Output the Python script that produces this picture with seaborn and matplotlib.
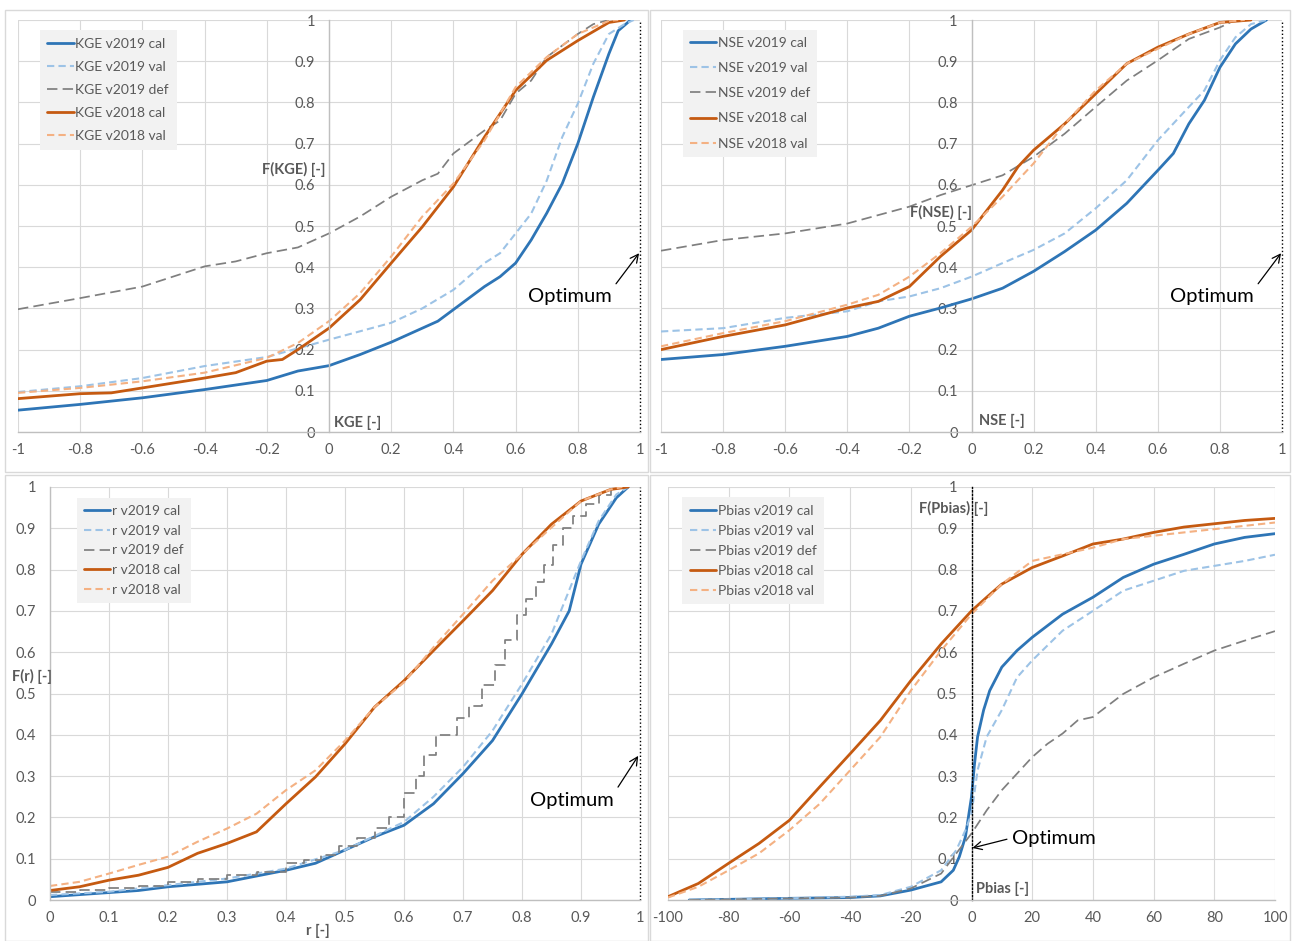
import pandas as pd
import seaborn as sns
import matplotlib.pyplot as plt
from matplotlib.patches import Rectangle
from matplotlib.ticker import FuncFormatter

# ---- data (x value, cumulative frequency) ----
KGE_CAL19_X = [-1, -0.8, -0.6, -0.4, -0.2, -0.1, 0, 0.1, 0.2, 0.3, 0.35, 0.4, 0.5, 0.55, 0.6, 0.65, 0.7, 0.75, 0.8, 0.85, 0.9, 0.93, 0.97]
KGE_CAL19_F = [0.053, 0.067, 0.083, 0.103, 0.125, 0.148, 0.161, 0.188, 0.218, 0.252, 0.269, 0.297, 0.353, 0.377, 0.41, 0.466, 0.531, 0.603, 0.70, 0.813, 0.918, 0.974, 1.0]
KGE_VAL19_X = [-1, -0.8, -0.6, -0.4, -0.2, 0, 0.2, 0.3, 0.4, 0.5, 0.55, 0.6, 0.65, 0.7, 0.75, 0.8, 0.85, 0.9, 0.95, 0.98]
KGE_VAL19_F = [0.097, 0.111, 0.131, 0.16, 0.182, 0.224, 0.265, 0.30, 0.345, 0.41, 0.434, 0.482, 0.53, 0.61, 0.716, 0.797, 0.894, 0.966, 0.99, 1.0]
KGE_DEF19_X = [-1, -0.8, -0.6, -0.4, -0.3, -0.2, -0.1, 0, 0.1, 0.2, 0.3, 0.35, 0.4, 0.5, 0.55, 0.6, 0.65, 0.7, 0.8, 0.85, 0.9]
KGE_DEF19_F = [0.298, 0.325, 0.353, 0.402, 0.414, 0.434, 0.448, 0.482, 0.523, 0.571, 0.611, 0.627, 0.676, 0.732, 0.756, 0.821, 0.853, 0.91, 0.966, 0.99, 1.0]
KGE_CAL18_X = [-1, -0.8, -0.7, -0.6, -0.4, -0.3, -0.2, -0.15, -0.1, 0, 0.1, 0.2, 0.3, 0.4, 0.5, 0.6, 0.7, 0.8, 0.9, 0.95]
KGE_CAL18_F = [0.081, 0.093, 0.095, 0.107, 0.131, 0.144, 0.172, 0.176, 0.20, 0.252, 0.321, 0.41, 0.498, 0.595, 0.716, 0.829, 0.902, 0.95, 0.994, 1.0]
KGE_VAL18_X = [-1, -0.8, -0.6, -0.4, -0.2, -0.1, 0, 0.1, 0.2, 0.3, 0.4, 0.5, 0.6, 0.7, 0.8, 0.9, 0.93]
KGE_VAL18_F = [0.095, 0.107, 0.123, 0.144, 0.18, 0.216, 0.269, 0.337, 0.426, 0.523, 0.603, 0.708, 0.837, 0.91, 0.966, 0.998, 1.0]

NSE_CAL19_X = [-1, -0.8, -0.6, -0.4, -0.3, -0.2, -0.1, 0, 0.1, 0.2, 0.3, 0.4, 0.5, 0.6, 0.65, 0.7, 0.75, 0.8, 0.85, 0.9, 0.95]
NSE_CAL19_F = [0.176, 0.188, 0.208, 0.232, 0.252, 0.281, 0.301, 0.323, 0.349, 0.39, 0.438, 0.49, 0.555, 0.635, 0.676, 0.748, 0.805, 0.885, 0.942, 0.978, 1.0]
NSE_VAL19_X = [-1, -0.8, -0.6, -0.4, -0.3, -0.2, -0.1, 0, 0.1, 0.2, 0.3, 0.4, 0.5, 0.6, 0.7, 0.75, 0.8, 0.85, 0.9, 0.95]
NSE_VAL19_F = [0.244, 0.252, 0.277, 0.293, 0.317, 0.329, 0.349, 0.377, 0.41, 0.442, 0.482, 0.543, 0.611, 0.708, 0.789, 0.829, 0.902, 0.958, 0.99, 1.0]
NSE_DEF19_X = [-1, -0.8, -0.6, -0.4, -0.2, -0.1, 0, 0.1, 0.2, 0.3, 0.4, 0.5, 0.6, 0.7, 0.8, 0.85]
NSE_DEF19_F = [0.44, 0.466, 0.482, 0.506, 0.547, 0.575, 0.599, 0.623, 0.668, 0.724, 0.789, 0.853, 0.902, 0.954, 0.982, 1.0]
NSE_CAL18_X = [-1, -0.8, -0.6, -0.4, -0.3, -0.2, -0.1, 0, 0.1, 0.15, 0.2, 0.3, 0.4, 0.5, 0.6, 0.7, 0.8, 0.9]
NSE_CAL18_F = [0.20, 0.232, 0.26, 0.301, 0.317, 0.353, 0.426, 0.49, 0.587, 0.644, 0.684, 0.748, 0.821, 0.894, 0.934, 0.966, 0.994, 1.0]
NSE_VAL18_X = [-1, -0.8, -0.6, -0.4, -0.3, -0.2, -0.1, 0, 0.1, 0.2, 0.25, 0.3, 0.4, 0.5, 0.6, 0.7, 0.8, 0.88]
NSE_VAL18_F = [0.208, 0.24, 0.269, 0.309, 0.333, 0.377, 0.434, 0.498, 0.571, 0.652, 0.70, 0.748, 0.829, 0.894, 0.93, 0.966, 0.994, 1.0]

R_CAL19_X = [0, 0.1, 0.15, 0.2, 0.3, 0.4, 0.45, 0.5, 0.55, 0.6, 0.65, 0.7, 0.75, 0.8, 0.85, 0.88, 0.9, 0.93, 0.96, 0.98]
R_CAL19_F = [0.008, 0.018, 0.023, 0.032, 0.044, 0.072, 0.089, 0.121, 0.153, 0.181, 0.233, 0.306, 0.386, 0.499, 0.62, 0.70, 0.813, 0.91, 0.974, 1.0]
R_VAL19_X = [0, 0.1, 0.2, 0.3, 0.4, 0.5, 0.6, 0.65, 0.7, 0.75, 0.8, 0.85, 0.9, 0.93, 0.96, 0.98]
R_VAL19_F = [0.012, 0.02, 0.036, 0.052, 0.076, 0.121, 0.189, 0.25, 0.322, 0.41, 0.523, 0.644, 0.821, 0.918, 0.982, 1.0]
R_DEF19_X = [0, 0.05, 0.1, 0.15, 0.2, 0.25, 0.3, 0.35, 0.4, 0.43, 0.46, 0.49, 0.52, 0.55, 0.575, 0.6, 0.62, 0.634, 0.655, 0.69, 0.711, 0.732,
             0.754, 0.771, 0.792, 0.806, 0.824, 0.838, 0.852, 0.87, 0.887, 0.908, 0.93, 0.95]
R_DEF19_F = [0.02, 0.024, 0.028, 0.034, 0.044, 0.05, 0.06, 0.068, 0.089, 0.098, 0.11, 0.13, 0.15, 0.175, 0.20, 0.258, 0.30, 0.35, 0.40, 0.44, 0.47, 0.52,
             0.57, 0.63, 0.69, 0.73, 0.77, 0.81, 0.86, 0.90, 0.93, 0.96, 0.98, 1.0]
R_CAL18_X = [0, 0.05, 0.1, 0.15, 0.2, 0.25, 0.3, 0.35, 0.4, 0.45, 0.5, 0.55, 0.6, 0.65, 0.7, 0.75, 0.8, 0.85, 0.9, 0.95, 0.98]
R_CAL18_F = [0.023, 0.032, 0.048, 0.06, 0.079, 0.113, 0.137, 0.165, 0.233, 0.298, 0.378, 0.467, 0.531, 0.604, 0.676, 0.749, 0.837, 0.91, 0.966, 0.994, 1.0]
R_VAL18_X = [0, 0.05, 0.1, 0.15, 0.2, 0.25, 0.3, 0.35, 0.4, 0.45, 0.5, 0.55, 0.6, 0.65, 0.7, 0.75, 0.8, 0.85, 0.9, 0.95, 0.97]
R_VAL18_F = [0.034, 0.044, 0.064, 0.085, 0.105, 0.141, 0.173, 0.209, 0.266, 0.314, 0.386, 0.467, 0.527, 0.612, 0.692, 0.773, 0.837, 0.902, 0.966, 0.994, 1.0]

PB_CAL19_X = [-93, -60, -40, -30, -20, -10, -6, -4, -2, 0, 1, 2, 4, 6, 10, 15, 20, 30, 40, 50, 60, 70, 80, 90, 100]
PB_CAL19_F = [0.0, 0.004, 0.006, 0.01, 0.024, 0.044, 0.072, 0.105, 0.153, 0.25, 0.33, 0.395, 0.46, 0.507, 0.564, 0.604, 0.636, 0.692, 0.733, 0.781, 0.813, 0.837, 0.862, 0.878, 0.887]
PB_VAL19_X = [-93, -60, -40, -30, -20, -10, -5, -2, 0, 2, 5, 10, 15, 20, 30, 40, 50, 60, 70, 80, 90, 100]
PB_VAL19_F = [0.0, 0.004, 0.008, 0.012, 0.032, 0.072, 0.121, 0.169, 0.209, 0.314, 0.395, 0.46, 0.539, 0.58, 0.652, 0.70, 0.749, 0.773, 0.797, 0.809, 0.821, 0.836]
PB_DEF19_X = [-93, -40, -30, -20, -10, -5, 0, 5, 10, 15, 20, 25, 30, 35, 40, 50, 60, 70, 80, 90, 100]
PB_DEF19_F = [0.0, 0.006, 0.01, 0.028, 0.064, 0.113, 0.161, 0.217, 0.266, 0.306, 0.346, 0.378, 0.403, 0.435, 0.443, 0.499, 0.539, 0.572, 0.604, 0.628, 0.651]
PB_CAL18_X = [-100, -90, -80, -70, -60, -50, -40, -30, -20, -10, 0, 5, 10, 20, 30, 40, 50, 60, 70, 80, 90, 100]
PB_CAL18_F = [0.008, 0.04, 0.089, 0.137, 0.193, 0.274, 0.354, 0.435, 0.531, 0.62, 0.70, 0.733, 0.765, 0.805, 0.833, 0.862, 0.874, 0.89, 0.903, 0.911, 0.919, 0.924]
PB_VAL18_X = [-100, -90, -80, -70, -60, -50, -40, -30, -20, -10, 0, 10, 20, 30, 40, 50, 60, 70, 80, 90, 100]
PB_VAL18_F = [0.006, 0.032, 0.072, 0.113, 0.169, 0.233, 0.314, 0.395, 0.507, 0.604, 0.692, 0.765, 0.821, 0.837, 0.853, 0.874, 0.882, 0.89, 0.898, 0.906, 0.914]

SERIES = ["v2019 cal", "v2019 val", "v2019 def", "v2018 cal", "v2018 val"]
Y_TICKS = [0, 0.1, 0.2, 0.3, 0.4, 0.5, 0.6, 0.7, 0.8, 0.9, 1]
X_TICKS_SKILL = [-1, -0.8, -0.6, -0.4, -0.2, 0, 0.2, 0.4, 0.6, 0.8, 1]
X_TICKS_R = [0, 0.1, 0.2, 0.3, 0.4, 0.5, 0.6, 0.7, 0.8, 0.9, 1]
X_TICKS_PB = [-100, -80, -60, -40, -20, 0, 20, 40, 60, 80, 100]

STYLE = {
    "v2019 cal": dict(color="#2e75b6", linewidth=2.0, linestyle="-"),
    "v2019 val": dict(color="#9dc3e6", linewidth=1.5, linestyle=(0, (3.5, 2))),
    "v2019 def": dict(color="#7f7f7f", linewidth=1.25, linestyle=(0, (6, 3))),
    "v2018 cal": dict(color="#c55a11", linewidth=2.0, linestyle="-"),
    "v2018 val": dict(color="#f4b183", linewidth=1.5, linestyle=(0, (3.5, 2))),
}
TXT = "#595959"
GRID = "#d9d9d9"

sns.set_theme(style="white")
plt.rcParams["font.family"] = ["Lato", "DejaVu Sans"]
plt.rcParams["axes.unicode_minus"] = False

fig = plt.figure(figsize=(12.92, 9.41), dpi=100)
W, H = 1292, 941


def px_axes(x0, y0, x1, y1):
    return fig.add_axes([x0 / W, 1 - y1 / H, (x1 - x0) / W, (y1 - y0) / H])


# panel frames like in the spreadsheet export
for (x0, y0, x1, y1) in [(5, 10, 648, 472), (650, 10, 1290, 472), (5, 475, 648, 941), (650, 475, 1290, 941)]:
    fig.add_artist(Rectangle((x0 / W, 1 - y1 / H), (x1 - x0) / W, (y1 - y0) / H,
                             transform=fig.transFigure, fill=False, ec=GRID, lw=1))


def draw_panel(ax, metric, curves, xticks, yaxis_at, steps_def=False):
    for name, (xs, fs) in zip(SERIES, curves):
        df = pd.DataFrame({"x": xs, "F": fs})
        kw = dict(STYLE[name])
        if steps_def and name == "v2019 def":
            kw["drawstyle"] = "steps-post"
        sns.lineplot(data=df, x="x", y="F", ax=ax, label=f"{metric} {name}",
                     estimator=None, sort=False, **kw)
    ax.set_xlim(xticks[0], xticks[-1])
    ax.set_ylim(0, 1)
    ax.set_xticks(xticks)
    ax.set_yticks(Y_TICKS)
    fmt = FuncFormatter(lambda v, p: f"{v:g}")
    ax.xaxis.set_major_formatter(fmt)
    ax.yaxis.set_major_formatter(fmt)
    ax.grid(True, color=GRID, lw=0.8)
    ax.set_axisbelow(True)
    ax.set_xlabel("")
    ax.set_ylabel("")
    ax.tick_params(axis="both", length=0, labelsize=10.5, labelcolor=TXT)
    ax.tick_params(axis="x", pad=8)
    ax.tick_params(axis="y", pad=10)
    for s in ["top", "right"]:
        ax.spines[s].set_visible(False)
    ax.spines["bottom"].set_color("#bfbfbf")
    ax.spines["left"].set_color("#bfbfbf")
    ax.spines["left"].set_position(("data", yaxis_at))
    ax.spines["bottom"].set_linewidth(1)
    ax.spines["left"].set_linewidth(1)


def add_legend(ax, x, y, spacing, pad):
    ax.legend(loc="upper left", bbox_to_anchor=(x, y), frameon=True, facecolor="#f2f2f2",
              edgecolor="none", framealpha=1, fancybox=False, fontsize=10, labelcolor=TXT,
              handlelength=1.9, handletextpad=0.12, labelspacing=spacing, borderpad=pad,
              borderaxespad=0)


def optimum(ax, xy, xytext, relpos):
    ax.annotate("Optimum", xy=xy, xytext=xytext, ha="center", va="center", fontsize=14.5,
                color="black",
                arrowprops=dict(arrowstyle="->", color="black", lw=0.9, relpos=relpos,
                                shrinkA=1, shrinkB=0))


# KGE
ax1 = px_axes(18, 20, 640, 432)
draw_panel(ax1, "KGE", [(KGE_CAL19_X, KGE_CAL19_F), (KGE_VAL19_X, KGE_VAL19_F), (KGE_DEF19_X, KGE_DEF19_F),
                        (KGE_CAL18_X, KGE_CAL18_F), (KGE_VAL18_X, KGE_VAL18_F)], X_TICKS_SKILL, 0)
ax1.axvline(1, color="black", ls=":", lw=1, clip_on=False)
add_legend(ax1, 0.035, 0.976, 0.8, 0.55)
ax1.text(-0.01, 0.638, "F(KGE) [-]", ha="right", va="center", fontsize=10.5, fontweight="bold", color=TXT)
ax1.text(0.015, 0.022, "KGE [-]", ha="left", va="center", fontsize=10.5, fontweight="bold", color=TXT)
optimum(ax1, (0.997, 0.434), (0.775, 0.33), (1.0, 0.9))

# NSE
ax2 = px_axes(661, 20, 1282, 432)
draw_panel(ax2, "NSE", [(NSE_CAL19_X, NSE_CAL19_F), (NSE_VAL19_X, NSE_VAL19_F), (NSE_DEF19_X, NSE_DEF19_F),
                        (NSE_CAL18_X, NSE_CAL18_F), (NSE_VAL18_X, NSE_VAL18_F)], X_TICKS_SKILL, 0)
ax2.axvline(1, color="black", ls=":", lw=1, clip_on=False)
add_legend(ax2, 0.035, 0.976, 0.95, 0.5)
ax2.text(0.0, 0.534, "F(NSE) [-]", ha="right", va="center", fontsize=10.5, fontweight="bold", color=TXT)
ax2.text(0.025, 0.027, "NSE [-]", ha="left", va="center", fontsize=10.5, fontweight="bold", color=TXT)
optimum(ax2, (0.997, 0.434), (0.775, 0.33), (1.0, 0.9))

# r
ax3 = px_axes(50, 487, 640, 900)
draw_panel(ax3, "r", [(R_CAL19_X, R_CAL19_F), (R_VAL19_X, R_VAL19_F), (R_DEF19_X, R_DEF19_F),
                      (R_CAL18_X, R_CAL18_F), (R_VAL18_X, R_VAL18_F)], X_TICKS_R, 0, steps_def=True)
ax3.axvline(1, color="black", ls=":", lw=1, clip_on=False)
add_legend(ax3, 0.046, 0.973, 0.55, 0.5)
ax3.text(0.004, 0.542, "F(r) [-]", ha="right", va="center", fontsize=10.5, fontweight="bold", color=TXT)
ax3.text(0.454, -0.075, "r [-]", ha="center", va="center", fontsize=10.5, fontweight="bold", color=TXT)
optimum(ax3, (0.997, 0.349), (0.885, 0.242), (1.0, 0.9))

# Pbias
ax4 = px_axes(668, 487, 1275, 900)
draw_panel(ax4, "Pbias", [(PB_CAL19_X, PB_CAL19_F), (PB_VAL19_X, PB_VAL19_F), (PB_DEF19_X, PB_DEF19_F),
                          (PB_CAL18_X, PB_CAL18_F), (PB_VAL18_X, PB_VAL18_F)], X_TICKS_PB, 0)
ax4.spines["left"].set_color("black")
ax4.spines["left"].set_linestyle(":")
add_legend(ax4, 0.023, 0.976, 0.58, 0.55)
ax4.text(-6, 0.947, "F(Pbias) [-]", ha="center", va="center", fontsize=10.5, fontweight="bold", color=TXT)
ax4.text(1.5, 0.027, "Pbias [-]", ha="left", va="center", fontsize=10.5, fontweight="bold", color=TXT)
optimum(ax4, (0.3, 0.126), (27, 0.15), (0.0, 0.5))

fig.savefig("out.png", dpi=100, facecolor="white")
